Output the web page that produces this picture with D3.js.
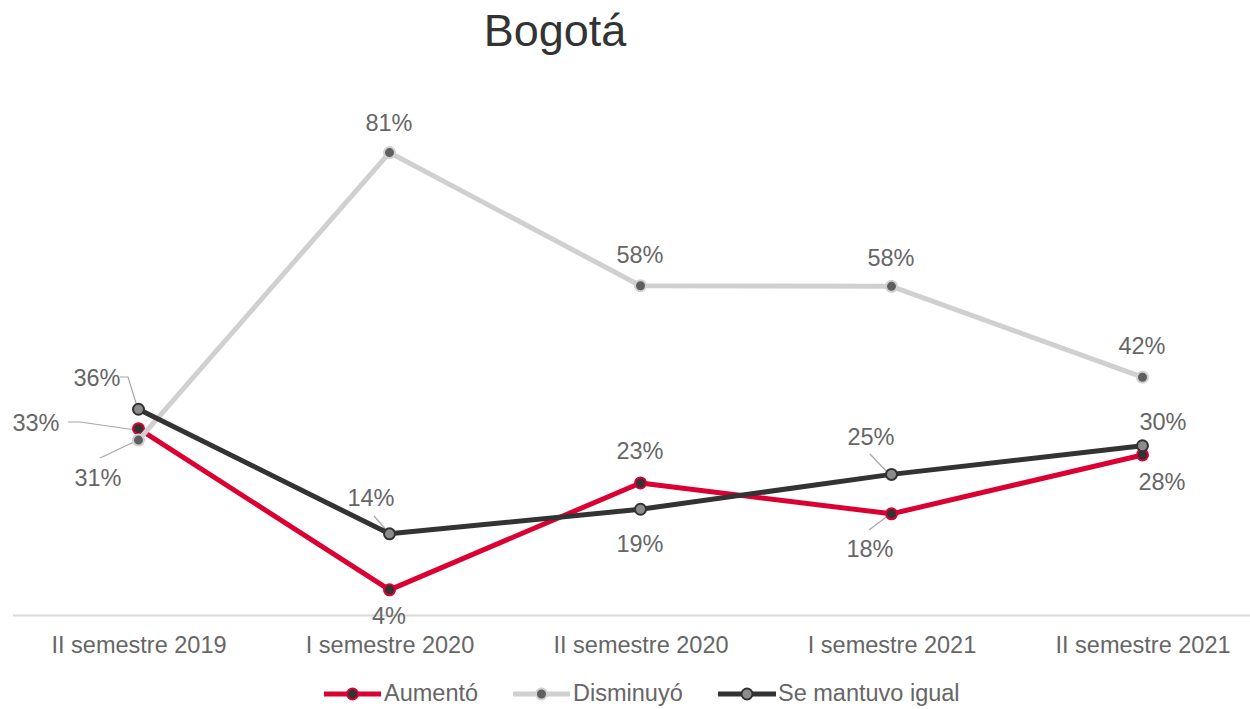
<!DOCTYPE html>
<html><head><meta charset="utf-8">
<script src="https://cdn.jsdelivr.net/npm/d3@7"></script>
<style>body{margin:0;background:#fff;}svg{display:block;}</style>
</head><body>
<svg id="c" width="1250" height="709"></svg>
<script>
const categories = ["II semestre 2019","I semestre 2020","II semestre 2020","I semestre 2021","II semestre 2021"];
const aumento = [32.6, 4.4, 23.1, 17.7, 28.0];
const disminuyo = [30.6, 80.9, 57.6, 57.5, 41.6];
const semantuvo = [36.0, 14.2, 18.5, 24.6, 29.6];
const seriesNames = ["Aumentó","Disminuyó","Se mantuvo igual"];
const title = "Bogotá";

const series = [
  {name: seriesNames[0], values: aumento, line: "#DC0032", mFill: "#333333", mStroke: "#DC0032"},
  {name: seriesNames[1], values: disminuyo, line: "#D0D0D0", mFill: "#5F5F5F", mStroke: "#D0D0D0"},
  {name: seriesNames[2], values: semantuvo, line: "#333333", mFill: "#8C8C8C", mStroke: "#333333"}
];

// label layout (absolute positions of label centers/baselines and leader lines)
const labelLayout = [
  [ {tx:36, ty:431, leader:[[68,422],[80,422],[136,430]]},
    {tx:389, ty:624},
    {tx:640, ty:459},
    {tx:870, ty:557, leader:[[869,530],[889,515]]},
    {tx:1162, ty:490} ],
  [ {tx:98, ty:486, leader:[[100,458],[136,441]]},
    {tx:389, ty:131},
    {tx:640, ty:263},
    {tx:891, ty:266},
    {tx:1142, ty:354} ],
  [ {tx:97, ty:386, leader:[[120,377],[128,377],[137,406]]},
    {tx:371, ty:506, leader:[[374,516],[388,532]]},
    {tx:640, ty:552},
    {tx:871, ty:445, leader:[[870,454],[889,474]]},
    {tx:1163, ty:430} ]
];

const FONT = "Liberation Sans, Arial, sans-serif";
const TXT = "#666666";
const svg = d3.select("#c");
const x = d3.scalePoint().domain(categories).range([13, 1268]).padding(0.5);
const y = d3.scaleLinear().domain([0, 100]).range([615, 43.4]);

svg.append("text").attr("x", 555).attr("y", 46).attr("text-anchor","middle")
  .attr("font-family",FONT).attr("font-size", 45)
  .attr("fill","#333333").text(title);

// axis
const xAxis = d3.axisBottom(x).tickSize(0).tickPadding(0);
const gx = svg.append("g").attr("transform","translate(0,615)").call(xAxis);
gx.select(".domain").remove();
gx.append("line").attr("x1",13).attr("x2",1250).attr("y1",0.5).attr("y2",0.5)
  .attr("stroke","#D9D9D9").attr("stroke-width",2);
gx.selectAll(".tick text").attr("font-family",FONT)
  .attr("font-size",23.5).attr("fill",TXT).attr("dy",0).attr("y",38);

const lineGen = d3.line().x((d,i)=>x(categories[i])).y(d=>y(d));

// leader lines
const lg = svg.append("g");
labelLayout.forEach(arr => arr.forEach(l => {
  if (l.leader) lg.append("polyline").attr("points", l.leader.map(p=>p.join(",")).join(" "))
    .attr("fill","none").attr("stroke","#A6A6A6").attr("stroke-width",1.2);
}));

series.forEach(s => {
  const g = svg.append("g");
  g.append("path").datum(s.values).attr("d", lineGen).attr("fill","none")
    .attr("stroke", s.line).attr("stroke-width",5).attr("stroke-linejoin","round").attr("stroke-linecap","round");
  g.selectAll("circle").data(s.values).join("circle")
    .attr("cx",(d,i)=>x(categories[i])).attr("cy",d=>y(d)).attr("r",5.5)
    .attr("fill", s.mFill).attr("stroke", s.mStroke).attr("stroke-width",2);
});

// data labels
series.forEach((s, si) => {
  svg.append("g").selectAll("text").data(s.values).join("text")
    .attr("x",(d,i)=>labelLayout[si][i].tx).attr("y",(d,i)=>labelLayout[si][i].ty)
    .attr("text-anchor","middle").attr("font-family",FONT)
    .attr("font-size",23.5).attr("fill",TXT).text(d=>Math.round(d)+"%");
});

// legend
const legendPos = [{x1:324,x2:381,tx:384},{x1:513,x2:570,tx:573},{x1:718,x2:776,tx:778}];
const leg = svg.append("g").attr("transform","translate(0,694)");
series.forEach((s,i) => {
  const p = legendPos[i];
  leg.append("line").attr("x1",p.x1).attr("x2",p.x2).attr("y1",0).attr("y2",0)
    .attr("stroke",s.line).attr("stroke-width",5);
  leg.append("circle").attr("cx",(p.x1+p.x2)/2).attr("cy",0).attr("r",5.5)
    .attr("fill",s.mFill).attr("stroke",s.mStroke).attr("stroke-width",2);
  leg.append("text").attr("x",p.tx).attr("y",7).attr("font-family",FONT)
    .attr("font-size",23.5).attr("fill",TXT).text(s.name);
});
</script>
</body></html>
